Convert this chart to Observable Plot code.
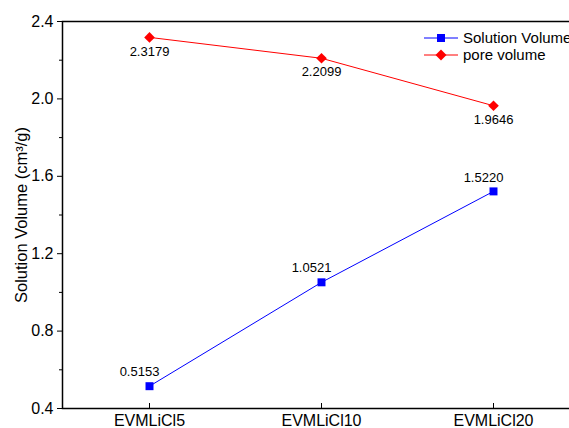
<!DOCTYPE html>
<html><head><meta charset="utf-8">
<script src="https://cdn.jsdelivr.net/npm/d3@7"></script>
<script src="https://cdn.jsdelivr.net/npm/@observablehq/plot@0.6"></script>
<style>
html,body{margin:0;padding:0;background:#fff;overflow:hidden;width:569px;height:428px}
#chart{position:relative;width:569px;height:428px;overflow:hidden;font-family:"Liberation Sans",Arial,sans-serif}
#chart > svg{display:block;max-width:none !important;width:590px !important;height:428px !important}
.legend{position:absolute;left:424px;top:29px;font-size:15px;color:#000;line-height:17px;white-space:nowrap}
.legend div{display:flex;align-items:center;height:17px}
.legend svg{margin-right:5px}
</style></head><body><div id="chart"></div>
<script>
const samples = ["EVMLiCl5", "EVMLiCl10", "EVMLiCl20"];
const solutionVolume = [0.5153, 1.0521, 1.5220];
const poreVolume = [2.3179, 2.2099, 1.9646];
const yTicks = [0.4, 0.8, 1.2, 1.6, 2.0, 2.4];
const yMinorTicks = [0.6, 1.0, 1.4, 1.8, 2.2];
const seriesNames = ["Solution Volume", "pore volume"];
const yLabel = "Solution Volume (cm³/g)";
const colors = ["#0000ff", "#ff0000"];

const solData = samples.map((s, i) => ({sample: s, value: solutionVolume[i]}));
const poreData = samples.map((s, i) => ({sample: s, value: poreVolume[i]}));

const chart = Plot.plot({
  width: 590,
  height: 428,
  marginLeft: 62,
  marginRight: 10,
  marginTop: 21,
  marginBottom: 20,
  style: {fontFamily: "Liberation Sans, Arial, sans-serif", background: "#fff", color: "#000"},
  x: {type: "point", domain: samples, padding: 0.5},
  y: {domain: [0.4, 2.4]},
  marks: [
    Plot.axisY({ticks: yTicks, tickFormat: d => d.toFixed(1), tickSize: 5, tickPadding: 4, fontSize: 16, label: null}),
    Plot.axisY({ticks: yMinorTicks, tickSize: 3, text: null, label: null}),
    Plot.text([yLabel], {text: d => d, frameAnchor: "left", rotate: -90, dx: -41, fontSize: 16.5, fill: "#000", textAnchor: "middle"}),
    Plot.axisX({tickSize: 0, tickPadding: 6, fontSize: 16, label: null}),
    Plot.tickX(samples, {x: d => d, insetTop: 382, stroke: "#000"}),
    Plot.frame({stroke: "#000", strokeWidth: 1.5}),
    Plot.line(poreData, {x: "sample", y: "value", stroke: colors[1], strokeWidth: 1}),
    Plot.line(solData, {x: "sample", y: "value", stroke: colors[0], strokeWidth: 1}),
    Plot.dot(poreData, {x: "sample", y: "value", symbol: "diamond2", r: 4.8, fill: colors[1]}),
    Plot.dot(solData, {x: "sample", y: "value", symbol: "square", r: 4.5, fill: colors[0]}),
    Plot.text(poreData, {x: "sample", y: "value", text: d => d.value.toFixed(4), dy: 14, fontSize: 13, fill: "#000"}),
    Plot.text(solData, {x: "sample", y: "value", text: d => d.value.toFixed(4), dx: -10, dy: -14, fontSize: 13, fill: "#000"})
  ]
});
document.getElementById("chart").appendChild(chart);

const legend = document.createElement("div");
legend.className = "legend";
legend.innerHTML = seriesNames.map((name, i) => {
  const sym = i === 0
    ? `<rect x="13" y="4" width="8" height="8" fill="${colors[i]}"/>`
    : `<path d="M17 2.5 L22.5 8 L17 13.5 L11.5 8 Z" fill="${colors[i]}"/>`;
  return `<div><svg width="34" height="16"><line x1="0" x2="34" y1="8" y2="8" stroke="${colors[i]}" stroke-width="1"/>${sym}</svg>${name}</div>`;
}).join("");
document.getElementById("chart").appendChild(legend);
</script></body></html>
